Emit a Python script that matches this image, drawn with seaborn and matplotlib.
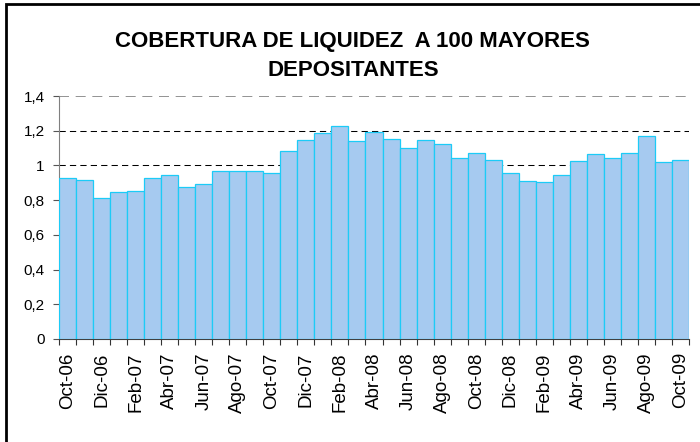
import matplotlib
matplotlib.use('Agg')
import matplotlib.pyplot as plt
import seaborn as sns
import pandas as pd
from matplotlib.patches import Rectangle
from matplotlib.ticker import FuncFormatter, FixedLocator

months = ['Oct-06', 'Nov-06', 'Dic-06', 'Ene-07', 'Feb-07', 'Mar-07', 'Abr-07', 'May-07',
          'Jun-07', 'Jul-07', 'Ago-07', 'Sep-07', 'Oct-07', 'Nov-07', 'Dic-07', 'Ene-08',
          'Feb-08', 'Mar-08', 'Abr-08', 'May-08', 'Jun-08', 'Jul-08', 'Ago-08', 'Sep-08',
          'Oct-08', 'Nov-08', 'Dic-08', 'Ene-09', 'Feb-09', 'Mar-09', 'Abr-09', 'May-09',
          'Jun-09', 'Jul-09', 'Ago-09', 'Sep-09', 'Oct-09']
values = [0.929, 0.916, 0.810, 0.845, 0.852, 0.925, 0.943, 0.874,
          0.895, 0.966, 0.966, 0.966, 0.958, 1.086, 1.144, 1.184,
          1.230, 1.142, 1.195, 1.155, 1.103, 1.149, 1.125, 1.040,
          1.073, 1.034, 0.954, 0.908, 0.906, 0.943, 1.023, 1.063,
          1.040, 1.073, 1.167, 1.019, 1.034]
tick_labels = months[::2]
y_ticks = [0, 0.2, 0.4, 0.6, 0.8, 1.0, 1.2, 1.4]
title_line1 = 'COBERTURA DE LIQUIDEZ  A 100 MAYORES'
title_line2 = 'DEPOSITANTES'

sns.set_theme(style='white')
plt.rcParams['font.family'] = ['Liberation Sans', 'DejaVu Sans']

W, H = 700, 442
fig = plt.figure(figsize=(7, 4.42), dpi=100)
fig.patch.set_facecolor('white')
ax = fig.add_axes([59 / W, (H - 339) / H, (689 - 59) / W, (339 - 96) / H])
ax.set_facecolor('white')

df = pd.DataFrame({'mes': months, 'valor': values})
sns.barplot(data=df, x='mes', y='valor', color='#A6CAF0', saturation=1,
            width=1.0, edgecolor='#1CCBF7', linewidth=0.9, ax=ax, zorder=3)

ax.set_xlim(-0.5, len(months) - 0.5)
ax.set_ylim(0, 1.4)
ax.set_xlabel('')
ax.set_ylabel('')

# y axis
ax.yaxis.set_major_locator(FixedLocator(y_ticks))


def fmt(v, p):
    s = f'{v:.1f}'
    if s.endswith('.0'):
        s = s[:-2]
    return s.replace('.', ',')


ax.yaxis.set_major_formatter(FuncFormatter(fmt))
ax.tick_params(axis='y', which='major', direction='out', length=4.3, width=0.8,
               color='#555555', pad=6, labelsize=11, labelcolor='black', left=True)

# x axis
ax.set_xticks(range(0, len(months), 2))
ax.set_xticklabels(tick_labels, rotation=90, fontsize=13.5, color='black')
ax.tick_params(axis='x', which='major', length=0, pad=9.5, bottom=True)
ax.xaxis.set_minor_locator(FixedLocator([i - 0.5 for i in range(len(months) + 1)]))
ax.tick_params(axis='x', which='minor', direction='out', length=4, width=0.8,
               color='#333333', bottom=True)

# grid
ax.set_axisbelow(True)
ax.yaxis.grid(True, color='black', linestyle=(0, (6, 4)), linewidth=0.75)
ax.xaxis.grid(False)
ax.get_ygridlines()[-1].set_color('#808080')
ax.get_ygridlines()[-1].set_linewidth(1.2)

for side in ['top', 'right']:
    ax.spines[side].set_visible(False)
ax.spines['left'].set_color('#808080')
ax.spines['left'].set_linewidth(0.8)
ax.spines['bottom'].set_color('#404040')
ax.spines['bottom'].set_linewidth(0.8)

# title
fig.text(352 / W, 1 - 47 / H, title_line1, ha='center', va='baseline',
         fontsize=16, fontweight='bold', color='black')
fig.text(353 / W, 1 - 76 / H, title_line2, ha='center', va='baseline',
         fontsize=16, fontweight='bold', color='black')

# outer border (open at right and bottom)
fig.patches.append(Rectangle((5.5 / W, -0.1), 1.2, 1.1 - 4 / H,
                             transform=fig.transFigure, fill=False,
                             edgecolor='black', linewidth=2, zorder=10))

fig.savefig('out.png', dpi=100, facecolor='white')
